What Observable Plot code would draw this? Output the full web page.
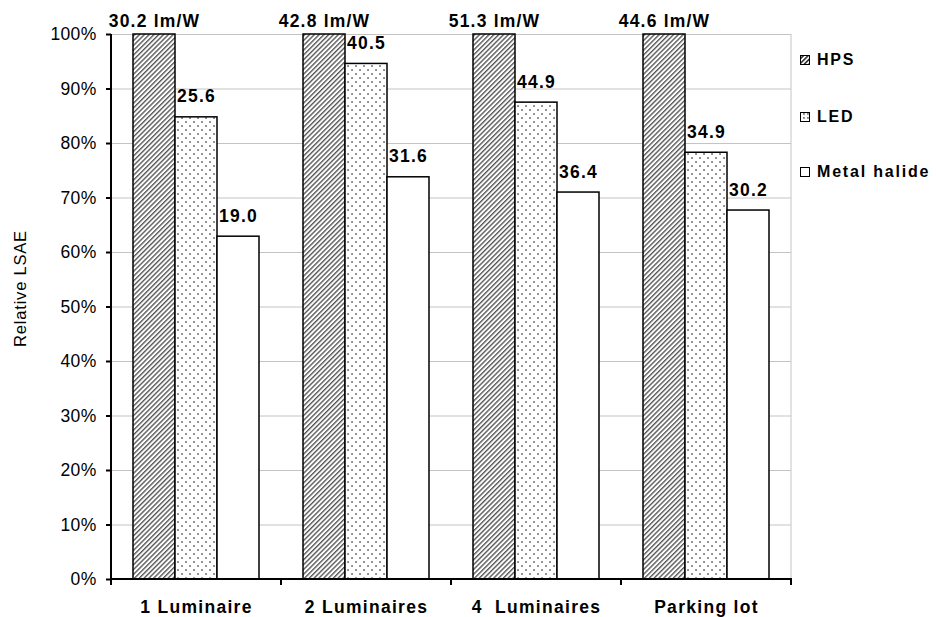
<!DOCTYPE html>
<html><head><meta charset="utf-8">
<script src="https://cdn.jsdelivr.net/npm/d3@7"></script>
<script src="https://cdn.jsdelivr.net/npm/@observablehq/plot@0.6"></script>
<style>
body{margin:0;background:#fff;}
#wrap{position:relative;width:936px;height:617px;font-family:"Liberation Sans",Arial,sans-serif;}
#legend{position:absolute;left:790px;top:40px;}
g[aria-label="fx-axis tick label"]{letter-spacing:1.3px;font-weight:bold;font-size:17.5px;}
g[aria-label="y-axis tick label"]{letter-spacing:0.3px;font-size:17.5px;}
g[aria-label="text"]{letter-spacing:1.2px;font-weight:bold;font-size:17.5px;}
</style></head><body><div id="wrap"></div>
<script>
const categories = ["1 Luminaire", "2 Luminaires", "4  Luminaires", "Parking lot"];
const series = ["HPS", "LED", "Metal halide"];
const hpsRel = [100, 100, 100, 100];
const ledRel = [84.8, 94.6, 87.5, 78.3];
const mhRel = [62.9, 73.8, 71.0, 67.7];
const hpsLabels = ["30.2 lm/W", "42.8 lm/W", "51.3 lm/W", "44.6 lm/W"];
const ledLabels = ["25.6", "40.5", "44.9", "34.9"];
const mhLabels = ["19.0", "31.6", "36.4", "30.2"];
const yTicks = [0, 10, 20, 30, 40, 50, 60, 70, 80, 90, 100];
const yTickLabels = ["0%", "10%", "20%", "30%", "40%", "50%", "60%", "70%", "80%", "90%", "100%"];

const rows = [];
categories.forEach((c, i) => {
  rows.push({cat: c, s: series[0], v: hpsRel[i], label: hpsLabels[i]});
  rows.push({cat: c, s: series[1], v: ledRel[i], label: ledLabels[i]});
  rows.push({cat: c, s: series[2], v: mhRel[i], label: mhLabels[i]});
});
const bySeries = s => rows.filter(d => d.s === s);

const font = '"Liberation Sans", Arial, sans-serif';
const chart = Plot.plot({
  width: 936, height: 617,
  marginLeft: 111, marginRight: 145, marginTop: 34, marginBottom: 38,
  style: {fontFamily: font, background: "#fff", color: "#000", overflow: "visible"},
  fx: {domain: categories, padding: 0, label: null},
  x: {domain: series, paddingInner: 0, paddingOuter: 0.5, axis: null},
  y: {domain: [0, 100], label: null},
  marks: [
    Plot.gridY(yTicks, {stroke: "#c4c4c4", strokeOpacity: 1, strokeWidth: 1}),
    Plot.barY(bySeries("HPS"), {fx: "cat", x: "s", y: "v", fill: "url(#hatch)", stroke: "#000", strokeWidth: 1.5}),
    Plot.barY(bySeries("LED"), {fx: "cat", x: "s", y: "v", fill: "url(#dots)", stroke: "#000", strokeWidth: 1.5}),
    Plot.barY(bySeries("Metal halide"), {fx: "cat", x: "s", y: "v", fill: "#fff", stroke: "#000", strokeWidth: 1.5}),
    Plot.text(bySeries("HPS"), {fx: "cat", x: "s", y: "v", text: "label", dy: -8, lineAnchor: "bottom", fontSize: 17.5, fontWeight: "bold", fill: "#000"}),
    Plot.text(rows.filter(d => d.s !== "HPS"), {fx: "cat", x: "s", y: "v", text: "label", dy: -15, lineAnchor: "bottom", fontSize: 17.5, fontWeight: "bold", fill: "#000"}),
    Plot.axisY({ticks: yTicks, tickFormat: (d) => yTickLabels[yTicks.indexOf(d)], tickSize: 5, tickPadding: 10, fontSize: 17.5, strokeWidth: 2, label: null}),
    Plot.axisFx({anchor: "bottom", tickSize: 0, tickPadding: 21, fontSize: 17.5, fontWeight: "bold", label: null,
      tickFormat: d => d.replace(/  /g, "\u00a0 ")})
  ]
});

const svg = d3.select(chart);
svg.insert("defs", ":first-child").html(`
  <pattern id="hatch" patternUnits="userSpaceOnUse" width="3.4" height="3.4" patternTransform="rotate(45)">
    <rect width="3.4" height="3.4" fill="#fff"/>
    <line x1="0.7" y1="0" x2="0.7" y2="3.4" stroke="#4a4a4a" stroke-width="1.3"/>
  </pattern>
  <pattern id="dots" patternUnits="userSpaceOnUse" width="8" height="8">
    <rect width="8" height="8" fill="#fff"/>
    <rect x="1.3" y="1.3" width="1.5" height="1.5" fill="#444"/>
    <rect x="5.3" y="5.3" width="1.5" height="1.5" fill="#444"/>
  </pattern>`);

const fx = chart.scale("fx"), y = chart.scale("y");
const x0 = fx.apply(categories[0]);
const x1 = fx.apply(categories[categories.length - 1]) + fx.bandwidth;
const yTop = y.apply(100), yBot = y.apply(0);
const g = svg.append("g");
g.append("line").attr("x1", x1).attr("x2", x1).attr("y1", yTop).attr("y2", yBot).attr("stroke", "#c4c4c4");
g.append("line").attr("x1", x0).attr("x2", x0).attr("y1", yTop).attr("y2", yBot).attr("stroke", "#000").attr("stroke-width", 2);
g.append("line").attr("x1", x0 - 1).attr("x2", x1 + 1).attr("y1", yBot).attr("y2", yBot).attr("stroke", "#000").attr("stroke-width", 2);
const bounds = categories.map(c => fx.apply(c)).concat([x1]);
bounds.forEach(b => g.append("line").attr("x1", b).attr("x2", b).attr("y1", yBot).attr("y2", yBot + 6).attr("stroke", "#000").attr("stroke-width", 2));
svg.append("text").attr("transform", `translate(26,${(yTop + yBot) / 2 - 18}) rotate(-90)`)
  .attr("text-anchor", "middle").attr("font-size", 16.5).attr("letter-spacing", "0.8px")
  .attr("font-family", font).text("Relative LSAE");

const wrap = document.getElementById("wrap");
wrap.appendChild(chart);

const leg = d3.select(wrap).append("svg").attr("id", "legend").attr("width", 146).attr("height", 160);
leg.append("defs").html(`
  <pattern id="lhatch" patternUnits="userSpaceOnUse" width="3.3" height="3.3" patternTransform="rotate(45)">
    <rect width="3.3" height="3.3" fill="#fff"/>
    <line x1="0.8" y1="0" x2="0.8" y2="3.3" stroke="#333" stroke-width="1.6"/>
  </pattern>
  <pattern id="ldots" patternUnits="userSpaceOnUse" width="4" height="4">
    <rect width="4" height="4" fill="#fff"/>
    <rect x="1.2" y="1.2" width="1.5" height="1.5" fill="#444"/>
  </pattern>`);
const legFills = ["url(#lhatch)", "url(#ldots)", "#fff"];
const legBase = [25, 82, 137];
series.forEach((s, i) => {
  leg.append("rect").attr("x", 10.5).attr("y", legBase[i] - 9.5).attr("width", 9).attr("height", 9)
    .attr("fill", legFills[i]).attr("stroke", "#000").attr("stroke-width", 1);
  leg.append("text").attr("x", 27).attr("y", legBase[i]).attr("font-size", 16).attr("font-weight", "bold")
    .attr("letter-spacing", "1.8px").attr("font-family", font).text(s);
});
</script></body></html>
